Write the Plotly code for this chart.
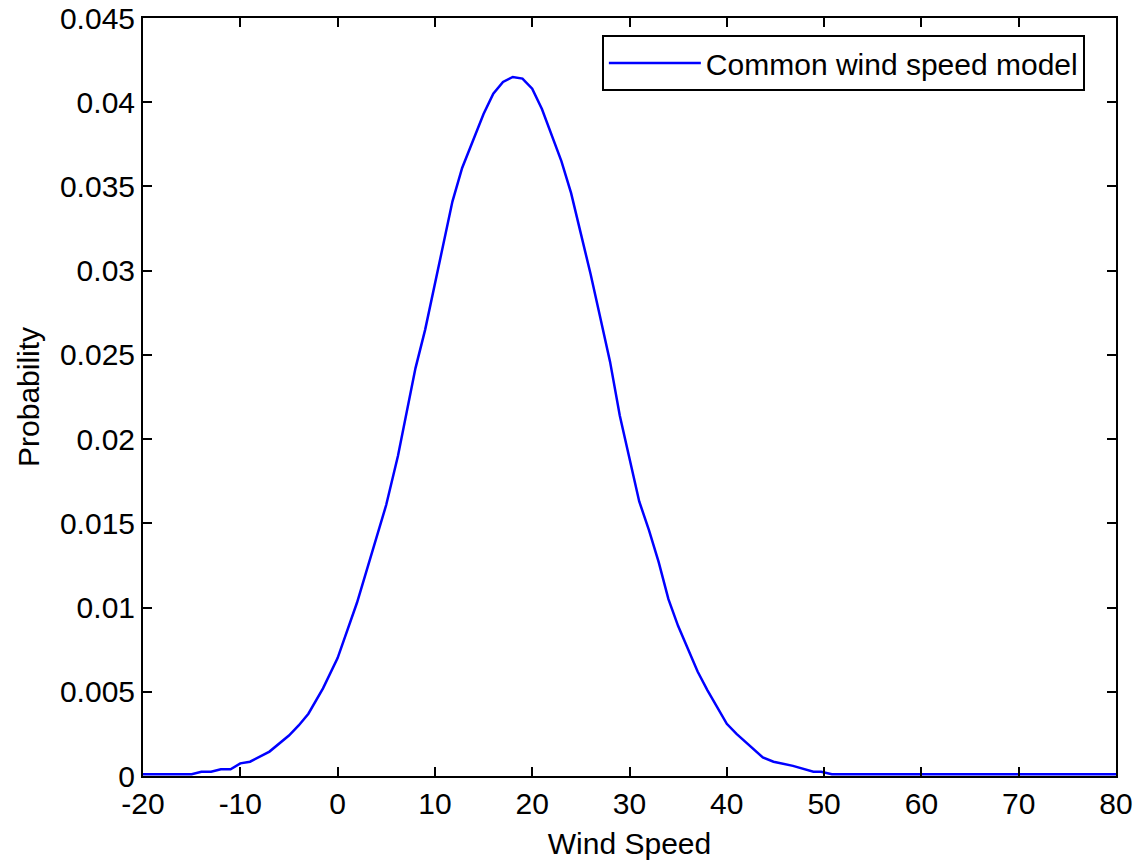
import plotly.graph_objects as go

wind_speed = [-20, -15, -14, -13, -12, -11, -10, -9, -7, -5, -4, -3, -1.5, 0, 2, 4, 5, 6.2, 8, 9,
              11, 11.8, 12.8, 15, 16, 17, 18, 19, 20, 21, 23, 24, 25, 26, 27, 28, 29, 30, 31, 32,
              33, 34, 35, 37, 38, 40, 41, 43.7, 44.8, 46.8, 48.9, 49.7, 50.8, 80]
probability = [0.0001, 0.0001, 0.00025, 0.00025, 0.0004, 0.0004, 0.00075, 0.00085, 0.00145, 0.0024,
               0.0030, 0.0037, 0.0052, 0.0070, 0.0103, 0.0141, 0.0161, 0.0190, 0.0242, 0.0265,
               0.0318, 0.0341, 0.0361, 0.0393, 0.0405, 0.0412, 0.0415, 0.0414, 0.0408, 0.0396,
               0.0365, 0.0346, 0.0322, 0.0298, 0.0272, 0.0246, 0.0214, 0.0189, 0.0163, 0.0146,
               0.0127, 0.0105, 0.0089, 0.0062, 0.0051, 0.0031, 0.0025, 0.0011, 0.00085, 0.0006,
               0.00025, 0.00025, 0.0001, 0.0001]

x_ticks = [-20, -10, 0, 10, 20, 30, 40, 50, 60, 70, 80]
x_ticktext = ["-20", "-10", "0", "10", "20", "30", "40", "50", "60", "70", "80"]
y_ticks = [0, 0.005, 0.01, 0.015, 0.02, 0.025, 0.03, 0.035, 0.04, 0.045]
y_ticktext = ["0", "0.005", "0.01", "0.015", "0.02", "0.025", "0.03", "0.035", "0.04", "0.045"]

FONT = "Liberation Sans, Arial, sans-serif"
FS = 30

fig = go.Figure()
fig.add_trace(go.Scatter(
    x=wind_speed, y=probability, mode="lines",
    name="Common wind speed model",
    line=dict(color="#0000ff", width=2.5),
))

axis_common = dict(
    showgrid=False, zeroline=False, showline=True, linecolor="black", linewidth=2,
    mirror="ticks", ticks="inside", ticklen=9, tickwidth=1.5, tickcolor="black",
    tickfont=dict(family=FONT, size=FS, color="black"), automargin=False,
)

fig.update_layout(
    width=1139, height=866,
    margin=dict(l=143, r=23, t=18, b=90),
    paper_bgcolor="white", plot_bgcolor="white",
    font=dict(family=FONT, size=FS, color="black"),
    xaxis=dict(range=[-20, 80], tickvals=x_ticks, ticktext=x_ticktext,
               title=dict(text="Wind Speed", font=dict(family=FONT, size=FS, color="black"), standoff=14),
               **axis_common),
    yaxis=dict(range=[0, 0.045], tickvals=y_ticks, ticktext=y_ticktext, **axis_common),
    annotations=[dict(text="Probability", textangle=-90, xref="paper", yref="paper",
                      x=-0.1182, y=0.5, xanchor="center", yanchor="middle", showarrow=False,
                      font=dict(family=FONT, size=FS, color="black"))],
    showlegend=True,
    legend=dict(x=0.968, y=0.9776, xanchor="right", yanchor="top",
                bordercolor="black", borderwidth=2, bgcolor="white",
                font=dict(family=FONT, size=FS, color="black"),
                itemwidth=92),
)

fig.write_html("out.html")
